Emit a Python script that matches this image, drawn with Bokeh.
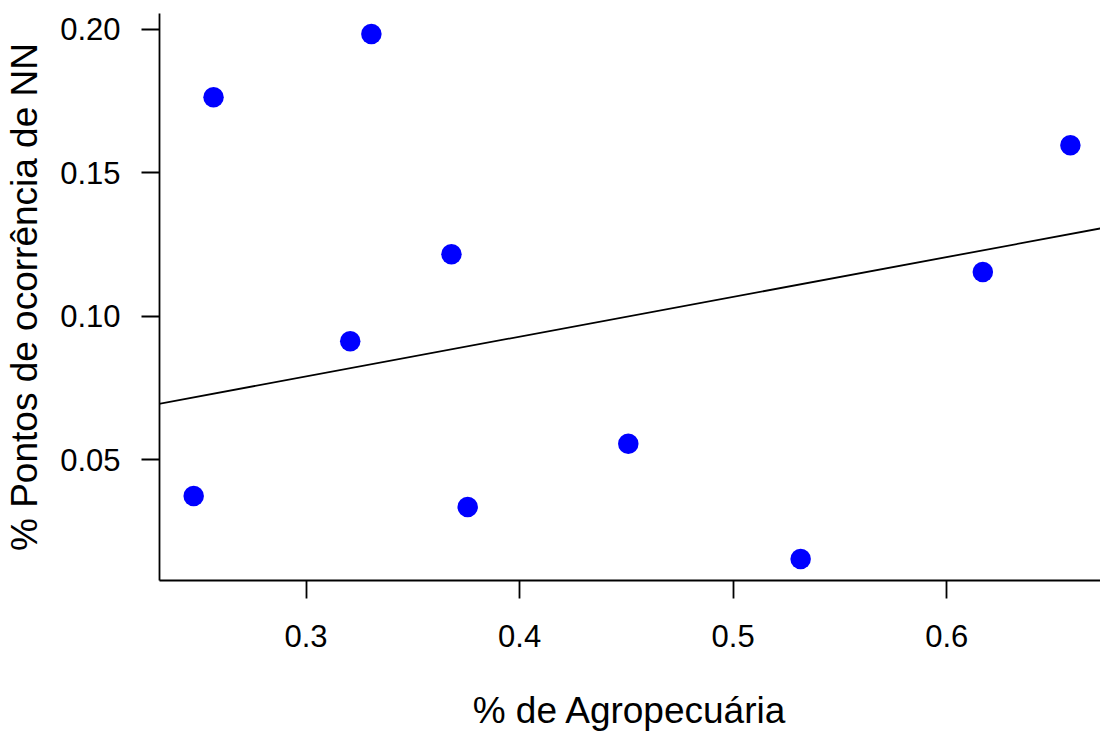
from bokeh.plotting import figure
from bokeh.models import Range1d, FixedTicker, Slope
from bokeh.embed import file_html
from bokeh.resources import INLINE

# Data
agropecuaria = [0.2474, 0.2567, 0.3306, 0.3207, 0.3681, 0.3757, 0.4509, 0.5316, 0.6169, 0.6579]
pontos_nn = [0.0374, 0.1762, 0.1983, 0.0913, 0.1216, 0.0336, 0.0556, 0.0155, 0.1154, 0.1595]

x_ticks = [0.3, 0.4, 0.5, 0.6]
y_ticks = [0.05, 0.10, 0.15, 0.20]
y_tick_labels = ["0.05", "0.10", "0.15", "0.20"]

# Fitted line
fit_intercept = 0.0375
fit_slope = 0.1385

FONT = "Liberation Sans"

p = figure(width=1100, height=733, output_backend="svg", toolbar_location=None,
           x_range=Range1d(0.2314, 0.6720), y_range=Range1d(0.0080, 0.2054),
           min_border_left=159, min_border_right=0, min_border_top=13, min_border_bottom=152)

p.grid.visible = False
p.outline_line_color = None
p.background_fill_color = "white"
p.border_fill_color = "white"

for ax in (p.xaxis[0], p.yaxis[0]):
    ax.axis_line_color = "black"
    ax.axis_line_width = 1.8
    ax.major_tick_line_color = "black"
    ax.major_tick_line_width = 1.8
    ax.major_tick_out = 18
    ax.major_tick_in = 0
    ax.minor_tick_line_color = None
    ax.major_label_text_font = FONT
    ax.major_label_text_font_size = "31px"
    ax.major_label_text_color = "black"
    ax.axis_label_text_font = FONT
    ax.axis_label_text_font_size = "37px"
    ax.axis_label_text_font_style = "normal"
    ax.axis_label_text_color = "black"

p.xaxis[0].ticker = FixedTicker(ticks=x_ticks)
p.yaxis[0].ticker = FixedTicker(ticks=y_ticks)
p.yaxis[0].major_label_overrides = {t: l for t, l in zip(y_ticks, y_tick_labels)}
p.yaxis[0].major_label_orientation = "horizontal"

p.xaxis[0].major_label_standoff = 26
p.yaxis[0].major_label_standoff = 21
p.xaxis[0].axis_label = "% de Agropecuária"
p.yaxis[0].axis_label = "% Pontos de ocorrência de NN"
p.xaxis[0].axis_label_standoff = 40
p.yaxis[0].axis_label_standoff = 12

p.add_layout(Slope(gradient=fit_slope, y_intercept=fit_intercept, line_color="black", line_width=1.8))

p.scatter(agropecuaria, pontos_nn, size=20.5, marker="circle", fill_color="#0000FF", line_color="#0000FF", line_width=0)

open("out.html", "w").write(file_html(p, INLINE))
